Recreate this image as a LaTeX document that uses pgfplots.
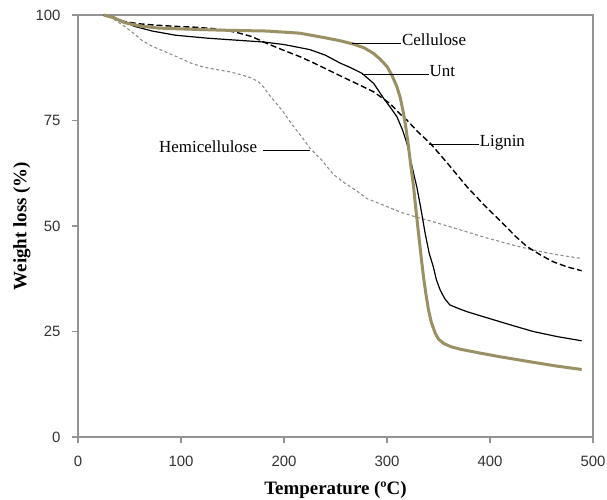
\documentclass[border=0pt]{standalone}
\usepackage{fontspec}
\setmainfont{Liberation Serif}
\newfontfamily\tickfont{Liberation Sans}
\usepackage{pgfplots}
\pgfplotsset{compat=1.18}
\definecolor{cellcol}{HTML}{9A9064}
\definecolor{hemicol}{HTML}{8C8C8C}
\definecolor{axcol}{HTML}{939393}

\begin{document}
\begin{tikzpicture}
\begin{axis}[
  scale only axis,
  width=515bp, height=422bp,
  xmin=0, xmax=500, ymin=0, ymax=100,
  xtick={0,100,...,500}, ytick={0,25,50,75,100},
  tick pos=left, tick align=outside,
  major tick length=6bp,
  axis line style={draw=axcol, line width=1.2bp},
  tick style={draw=axcol, line width=1.2bp},
  /pgf/number format/assume math mode=true,
  ticklabel style={font=\tickfont\fontsize{15}{15}\selectfont, text=black!80},
  xticklabel style={yshift=-10bp},
  yticklabel style={xshift=-8bp},
  xlabel={\textbf{Temperature (ºC)}},
  ylabel={\textbf{Weight loss (\%)}},
  label style={font=\fontsize{19}{19}\selectfont},
  xlabel style={at={(axis description cs:0.5,0)}, anchor=center, yshift=-53bp},
  ylabel style={at={(axis description cs:0,0.5)}, anchor=center, yshift=56bp},
  clip=false,
]
\coordinate (bl) at (rel axis cs:0,0);
\coordinate (tr) at (rel axis cs:1,1);
% plot frame
\draw[axcol, line width=1.2bp] (rel axis cs:0,0) rectangle (rel axis cs:1,1);

% Hemicellulose
\addplot[hemicol, line width=1.1bp, dash pattern=on 3bp off 2.5bp] coordinates {
(25,100)(30,99.7)(38,98.5)(45.7,97.2)(55,95.5)(62,94)(72,92.6)(84.5,91.3)
(97,90)(110.5,88.5)(123,87.6)(136,87)(148,86.5)(159,85.8)(168,85.1)(175,84.2)
(180,83)(184.6,81.4)(191,79.5)(197.9,77.5)(207,74.3)(217,71.2)(225,68.5)
(236.7,65.6)(248,62.2)(260,60)(270.7,58.3)(280.5,56.5)(296,55)(312.8,53.3)
(330,52)(345,51)(360,49.9)(377.6,48.6)(395,47.3)(410,46.3)(425,45.3)
(442,44.3)(465,43.2)(489,42.3)
};
% Lignin
\addplot[black, line width=1.4bp, dash pattern=on 6bp off 3bp] coordinates {
(25,100)(35,99.3)(45.7,98.4)(60,97.9)(75,97.6)(95,97.3)(114,97.1)(130,96.8)
(143,96.4)(155,95.8)(168.7,94.9)(183,93.3)(191,92.5)(200,91.6)(215.7,90.1)
(230,88.5)(254.5,85.6)(270,83.8)(287,81.8)(303,79)(312.8,76.5)(319.3,75.1)
(330,72.3)(342,69.6)(360,64.5)(377.6,59.3)(395,54.8)(410,51.2)(425,47.5)
(436,45.1)(450,43)(461.6,41.5)(475,40.3)(489,39.4)
};
% Unt
\addplot[black, line width=1.2bp] coordinates {
(25,100)(34,99.6)(45,98.3)(55,97.3)(72,96.2)(95,95.2)(126,94.5)(150,94.1)
(180,93.6)(200,93.0)(225,91.8)(240,90.5)(254.5,88.6)(264,87.6)(275.6,86.2)
(287,83.8)(296.6,80.3)(303,78.2)(309.6,75.9)(315,72.8)(319.3,69.6)
(323,65.5)(326,62.3)(329,59.2)(333,54)(337,48.3)(341,43.5)(345,40.3)
(348,37.2)(351.7,34.8)(356,32.8)(361,31.3)(370,30.4)(377.6,29.7)(395,28.4)
(410,27.3)(425,26.2)(442,25)(465,23.8)(489,22.8)
};
% Cellulose
\addplot[cellcol, line width=3bp] coordinates {
(25,100)(35,99.3)(45,98.2)(60,97.4)(78,96.9)(100,96.7)(140,96.4)(183,96.2)
(215,95.7)(240,94.6)(254.5,93.9)(267.5,93.1)(278,92.2)(286.9,90.9)
(293,89.6)(300,87.8)(305,85.6)(309.6,83)(313,80.3)(316,76.7)(318.5,73)
(320.9,68.8)(323,64.5)(325.7,59.5)(328,54)(330.6,48.3)(333,43)(335.4,38)
(338,33.5)(340.3,30.1)(343,27.2)(346.8,24.6)(350,23.2)(354.9,22.2)
(362,21.4)(371,20.8)(390,19.9)(410,19)(442,17.7)(465,16.8)(489,16)
};

% leader lines and labels
\draw[black, line width=1bp] (axis cs:266,93.3) -- (axis cs:313.5,93.3);
\node[anchor=mid west, inner sep=1bp, font=\fontsize{17}{17}\selectfont]
  at (axis cs:313.5,93.3) {Cellulose};
\draw[black, line width=1bp] (axis cs:275.6,86) -- (axis cs:340.3,86);
\node[anchor=mid west, inner sep=1bp, font=\fontsize{17}{17}\selectfont]
  at (axis cs:340.3,86) {Unt};
\draw[black, line width=1bp] (axis cs:340.3,69.4) -- (axis cs:388.9,69.4);
\node[anchor=mid west, inner sep=1bp, font=\fontsize{17}{17}\selectfont]
  at (axis cs:388.9,69.4) {Lignin};
\draw[black, line width=1bp] (axis cs:180,68) -- (axis cs:225.4,68);
\node[anchor=mid east, inner sep=1bp, font=\fontsize{17}{17}\selectfont]
  at (axis cs:175,68) {Hemicellulose};
\end{axis}
\pgfresetboundingbox
\path ([shift={(-78bp,-63bp)}]bl) rectangle ([shift={(14bp,15bp)}]tr);
\end{tikzpicture}
\end{document}
